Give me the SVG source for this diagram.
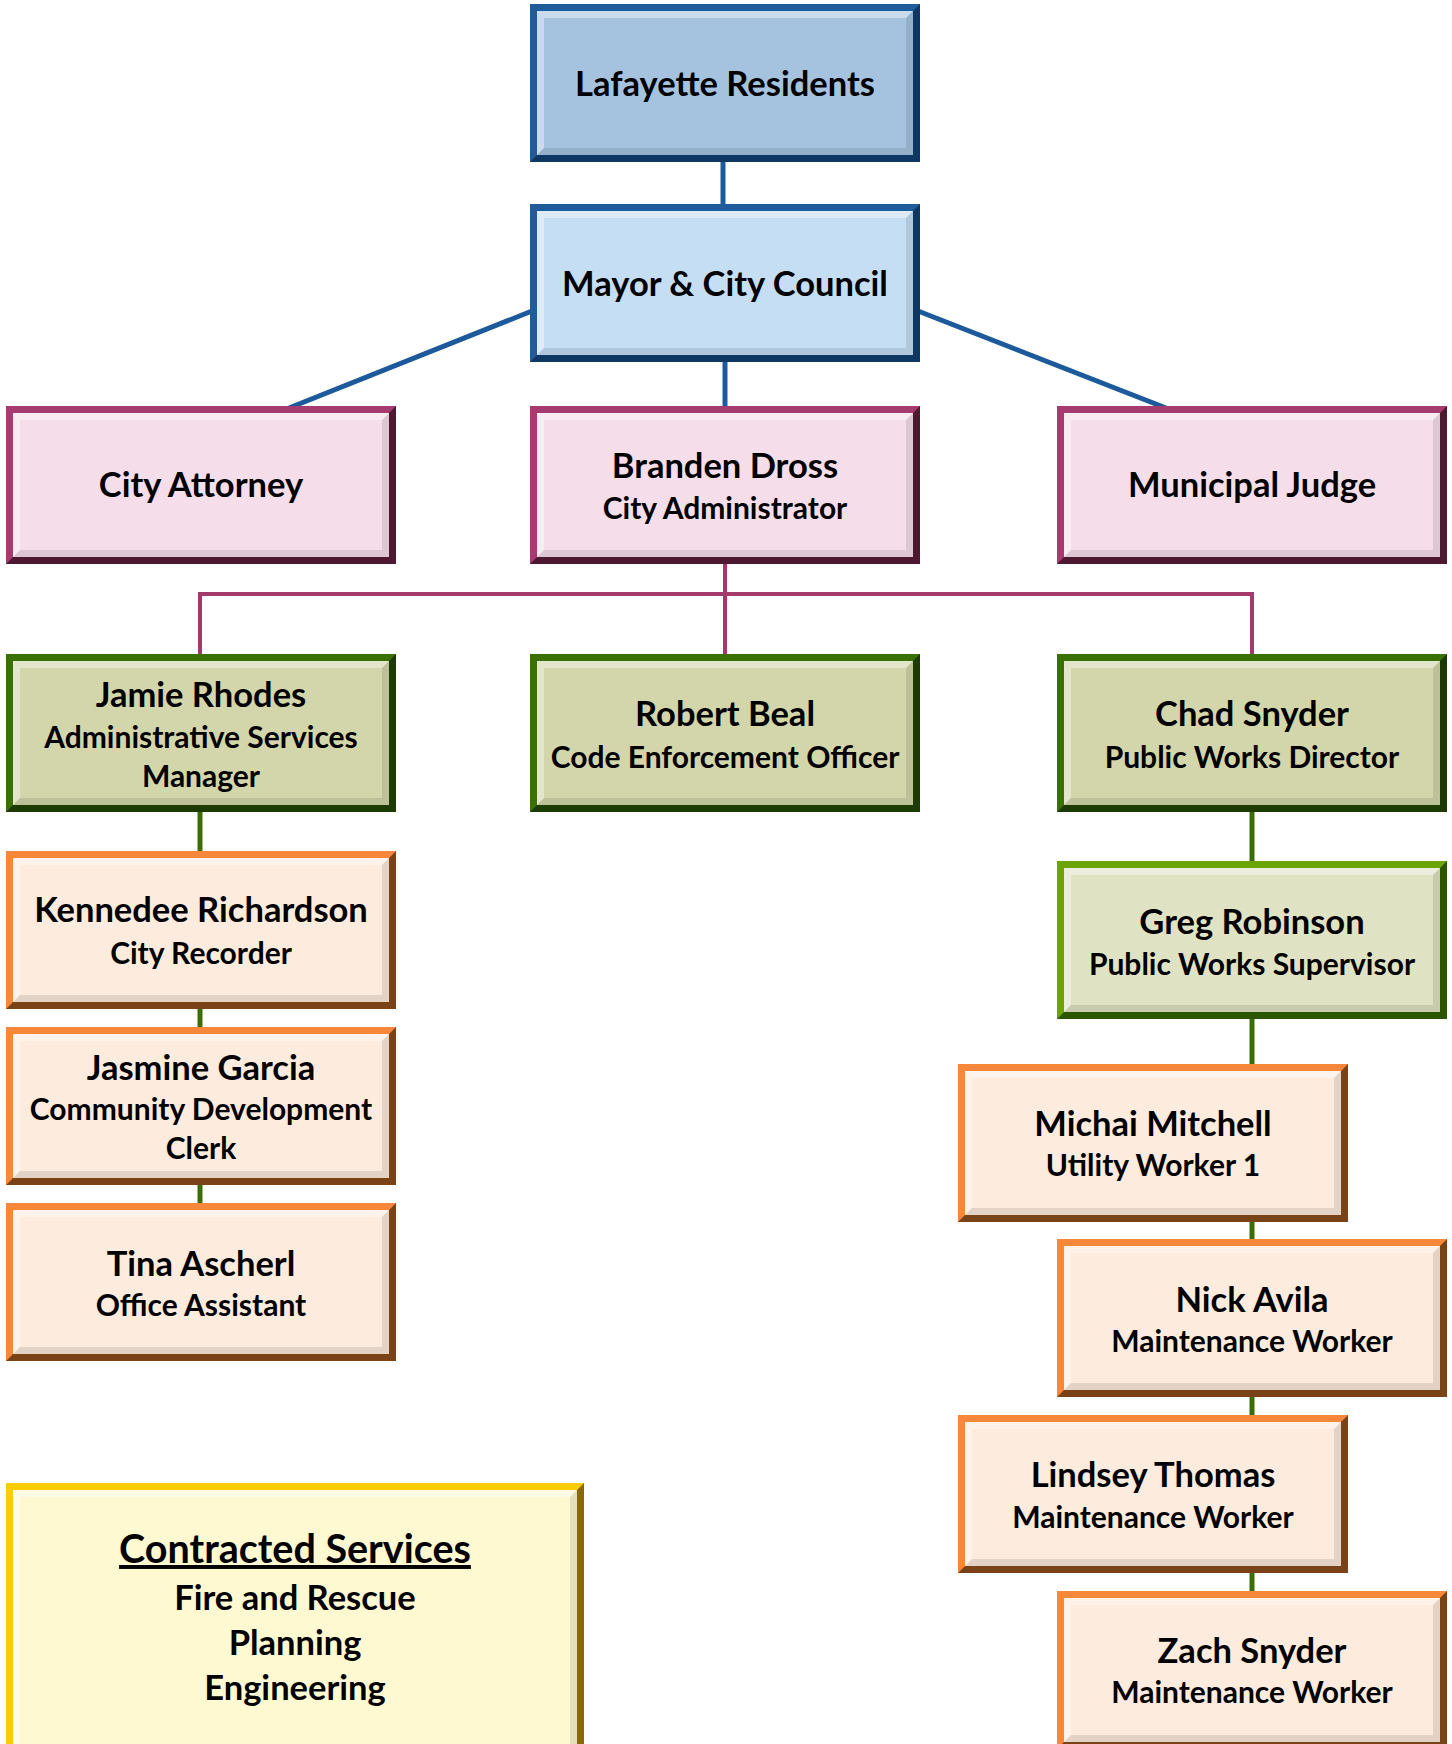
<svg xmlns="http://www.w3.org/2000/svg" xmlns:xlink="http://www.w3.org/1999/xlink" width="1452" height="1744" viewBox="0 0 1452 1744">
<style>
  text { font-family: Lato, "Liberation Sans", sans-serif; font-weight: bold; fill: #000; text-anchor: middle; }
  .nm { font-size: 34.5px; }
  .rl { font-size: 30px; }
  .ct { font-size: 39.5px; text-decoration: underline; }
  .cl { font-size: 34.5px; }
  .fr { fill: var(--fr); }
  .dk { fill: var(--dk); }
  .fc { fill: var(--fc); }
  .hi { fill: #ffffff; opacity: 0.4; }
  .lo { fill: #000000; opacity: 0.1; }
  .blue1 { --fr: #1F5C9C; --dk: #0E3763; --fc: #A5C3DF; }
  .blue2 { --fr: #1F5C9C; --dk: #0E3763; --fc: #C6DEF4; }
  .pink  { --fr: #A63B6F; --dk: #4E1831; --fc: #F5DEEA; }
  .green { --fr: #3A7104; --dk: #1C3A02; --fc: #D3D6AA; }
  .green2 { --fr: #6AA406; --dk: #2C5500; --fc: #E0E3C3; }
  .orange { --fr: #F7873A; --dk: #7A4217; --fc: #FDEBDD; }
  .gold { --fr: #FFCC00; --dk: #8A6A00; --fc: #FFF9D2; }
  .c-blue { stroke: #1C5A9B; stroke-width: 5; fill: none; }
  .c-mag { stroke: #A33A6C; stroke-width: 4; fill: none; }
  .c-grn { stroke: #3B6E0B; stroke-width: 5; fill: none; }
</style>
<defs>
  <g id="box">
    <rect class="fr" x="0" y="0" width="390" height="158"/>
    <polygon class="dk" points="390,0 390,158 0,158 7,151 383,151 383,7"/>
    <rect class="fc" x="7" y="7" width="376" height="144"/>
    <polygon class="hi" points="7,7 383,7 376,14 14,14 14,144 7,151"/>
    <polygon class="lo" points="383,7 383,151 7,151 14,144 376,144 376,14"/>
  </g>
  <g id="bigbox">
    <rect class="fr" x="0" y="0" width="578" height="275"/>
    <polygon class="dk" points="578,0 578,275 0,275 7,268 571,268 571,7"/>
    <rect class="fc" x="7" y="7" width="564" height="261"/>
    <polygon class="hi" points="7,7 571,7 564,14 14,14 14,261 7,268"/>
    <polygon class="lo" points="571,7 571,268 7,268 14,261 564,261 564,14"/>
  </g>
</defs>
<rect x="0" y="0" width="1452" height="1744" fill="#ffffff"/>

<g id="connectors">
  <line class="c-blue" x1="723" y1="160" x2="723" y2="206"/>
  <line class="c-blue" x1="725" y1="360" x2="725" y2="408"/>
  <line class="c-blue" x1="532" y1="311" x2="289" y2="408"/>
  <line class="c-blue" x1="918" y1="311" x2="1166" y2="408"/>
  <line class="c-mag" x1="725" y1="562" x2="725" y2="656"/>
  <polyline class="c-mag" points="200,656 200,594 1252,594 1252,656"/>
  <line class="c-grn" x1="200" y1="810" x2="200" y2="1205"/>
  <line class="c-grn" x1="1252" y1="810" x2="1252" y2="1593"/>
</g>

<g id="lafayette-residents">
  <use href="#box" x="530" y="4" class="blue1"/>
  <text class="nm" x="725" y="96">Lafayette Residents</text>
</g>
<g id="mayor-city-council">
  <use href="#box" x="530" y="204" class="blue2"/>
  <text class="nm" x="725" y="296">Mayor &amp; City Council</text>
</g>
<g id="city-attorney">
  <use href="#box" x="6" y="406" class="pink"/>
  <text class="nm" x="201" y="497">City Attorney</text>
</g>
<g id="branden-dross">
  <use href="#box" x="530" y="406" class="pink"/>
  <text class="nm" x="725" y="478">Branden Dross</text>
  <text class="rl" x="725" y="519">City Administrator</text>
</g>
<g id="municipal-judge">
  <use href="#box" x="1057" y="406" class="pink"/>
  <text class="nm" x="1252" y="497">Municipal Judge</text>
</g>
<g id="jamie-rhodes">
  <use href="#box" x="6" y="654" class="green"/>
  <text class="nm" x="201" y="707">Jamie Rhodes</text>
  <text class="rl" x="201" y="748">Administrative Services</text>
  <text class="rl" x="201" y="787">Manager</text>
</g>
<g id="robert-beal">
  <use href="#box" x="530" y="654" class="green"/>
  <text class="nm" x="725" y="726">Robert Beal</text>
  <text class="rl" x="725" y="768">Code Enforcement Officer</text>
</g>
<g id="chad-snyder">
  <use href="#box" x="1057" y="654" class="green"/>
  <text class="nm" x="1252" y="726">Chad Snyder</text>
  <text class="rl" x="1252" y="768">Public Works Director</text>
</g>
<g id="kennedee-richardson">
  <use href="#box" x="6" y="851" class="orange"/>
  <text class="nm" x="201" y="922">Kennedee Richardson</text>
  <text class="rl" x="201" y="964">City Recorder</text>
</g>
<g id="greg-robinson">
  <use href="#box" x="1057" y="861" class="green2"/>
  <text class="nm" x="1252" y="934">Greg Robinson</text>
  <text class="rl" x="1252" y="975">Public Works Supervisor</text>
</g>
<g id="jasmine-garcia">
  <use href="#box" x="6" y="1027" class="orange"/>
  <text class="nm" x="201" y="1080">Jasmine Garcia</text>
  <text class="rl" x="201" y="1120">Community Development</text>
  <text class="rl" x="201" y="1159">Clerk</text>
</g>
<g id="michai-mitchell">
  <use href="#box" x="958" y="1064" class="orange"/>
  <text class="nm" x="1153" y="1136">Michai Mitchell</text>
  <text class="rl" x="1153" y="1176">Utility Worker 1</text>
</g>
<g id="tina-ascherl">
  <use href="#box" x="6" y="1203" class="orange"/>
  <text class="nm" x="201" y="1276">Tina Ascherl</text>
  <text class="rl" x="201" y="1316">Office Assistant</text>
</g>
<g id="nick-avila">
  <use href="#box" x="1057" y="1239" class="orange"/>
  <text class="nm" x="1252" y="1312">Nick Avila</text>
  <text class="rl" x="1252" y="1352">Maintenance Worker</text>
</g>
<g id="lindsey-thomas">
  <use href="#box" x="958" y="1415" class="orange"/>
  <text class="nm" x="1153" y="1487">Lindsey Thomas</text>
  <text class="rl" x="1153" y="1528">Maintenance Worker</text>
</g>
<g id="zach-snyder">
  <use href="#box" x="1057" y="1591" class="orange"/>
  <text class="nm" x="1252" y="1663">Zach Snyder</text>
  <text class="rl" x="1252" y="1703">Maintenance Worker</text>
</g>
<g id="contracted-services">
  <use href="#bigbox" x="6" y="1483" class="gold"/>
  <text class="ct" x="295" y="1563">Contracted Services</text>
  <text class="cl" x="295" y="1610">Fire and Rescue</text>
  <text class="cl" x="295" y="1655">Planning</text>
  <text class="cl" x="295" y="1700">Engineering</text>
</g>
</svg>
